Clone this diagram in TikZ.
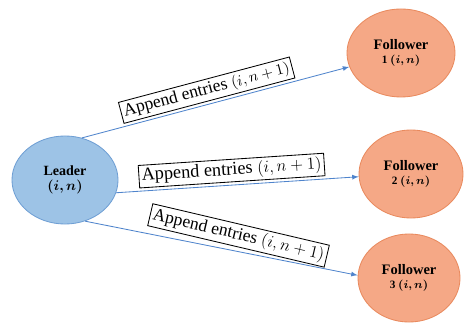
\documentclass[tikz,border=0pt]{standalone}
\usepackage{fontspec}
\setmainfont{Liberation Serif}
\usepackage{amsmath,bm}
\usetikzlibrary{arrows,shapes.geometric}
\definecolor{leaderfill}{HTML}{9DC3E6}
\definecolor{leaderdraw}{HTML}{6F9FD4}
\definecolor{followfill}{HTML}{F5A886}
\definecolor{followdraw}{HTML}{E98A5E}
\definecolor{linkblue}{HTML}{4F84CC}
\tikzset{
  leaderell/.style={ellipse,draw=leaderdraw,fill=leaderfill,line width=0.6pt,
    minimum width=2.65cm,minimum height=2.2cm,align=center,inner sep=0pt},
  followell/.style={ellipse,draw=followdraw,fill=followfill,line width=0.6pt,
    minimum width=2.7cm,minimum height=2.2cm,align=center,inner sep=0pt},
  link/.style={-latex,draw=linkblue,line width=0.6pt},
  msgbox/.style={draw=black,fill=white,line width=0.6pt,inner sep=2pt,
    sloped,above=2pt,font=\fontsize{13}{15}\selectfont}
}
\newcommand{\Lbl}[1]{\textbf{#1}}

\begin{document}
\begin{tikzpicture}[x=0.025cm,y=-0.025cm]
\useasboundingbox (0,0) rectangle (464,326);
% \draw[help lines] (0,0) grid (464,326);
\node (ldr) [leaderell] at (65,180) {\fontsize{10}{14}\selectfont\Lbl{Leader}\\[-1pt]\fontsize{10}{14}\selectfont$\bm{(i,n)}$};
\node (f1) [followell] at (401,53) {\fontsize{10.3}{12}\selectfont\Lbl{Follower}\\[-2pt]\fontsize{8}{10}\selectfont\textbf{1} $\bm{(i,n)}$};
\node (f2) [followell,minimum width=2.6cm] at (411,174) {\fontsize{10.3}{12}\selectfont\Lbl{Follower}\\[-2pt]\fontsize{8}{10}\selectfont\textbf{2} $\bm{(i,n)}$};
\node (f3) [followell,minimum width=2.55cm] at (409,278) {\fontsize{10.3}{12}\selectfont\Lbl{Follower}\\[-2pt]\fontsize{8}{10}\selectfont\textbf{3} $\bm{(i,n)}$};
%
\path (ldr.68) edge[link] node[msgbox,pos=0.48,font=\fontsize{12.5}{14}\selectfont] {Append entries {\fontsize{10.5}{12}\selectfont$(i,n+1)$}} (f1.195);
\path (ldr.-14) edge[link] node[msgbox,pos=0.48,above=0pt] {Append entries $(i,n+1)$} (f2.183);
\path (ldr.-64) edge[link] node[msgbox,pos=0.55,above=1pt,rotate=-2,font=\fontsize{12.5}{14}\selectfont] {Append entries $(i,n+1)$} (f3.177);
\end{tikzpicture}
\end{document}
